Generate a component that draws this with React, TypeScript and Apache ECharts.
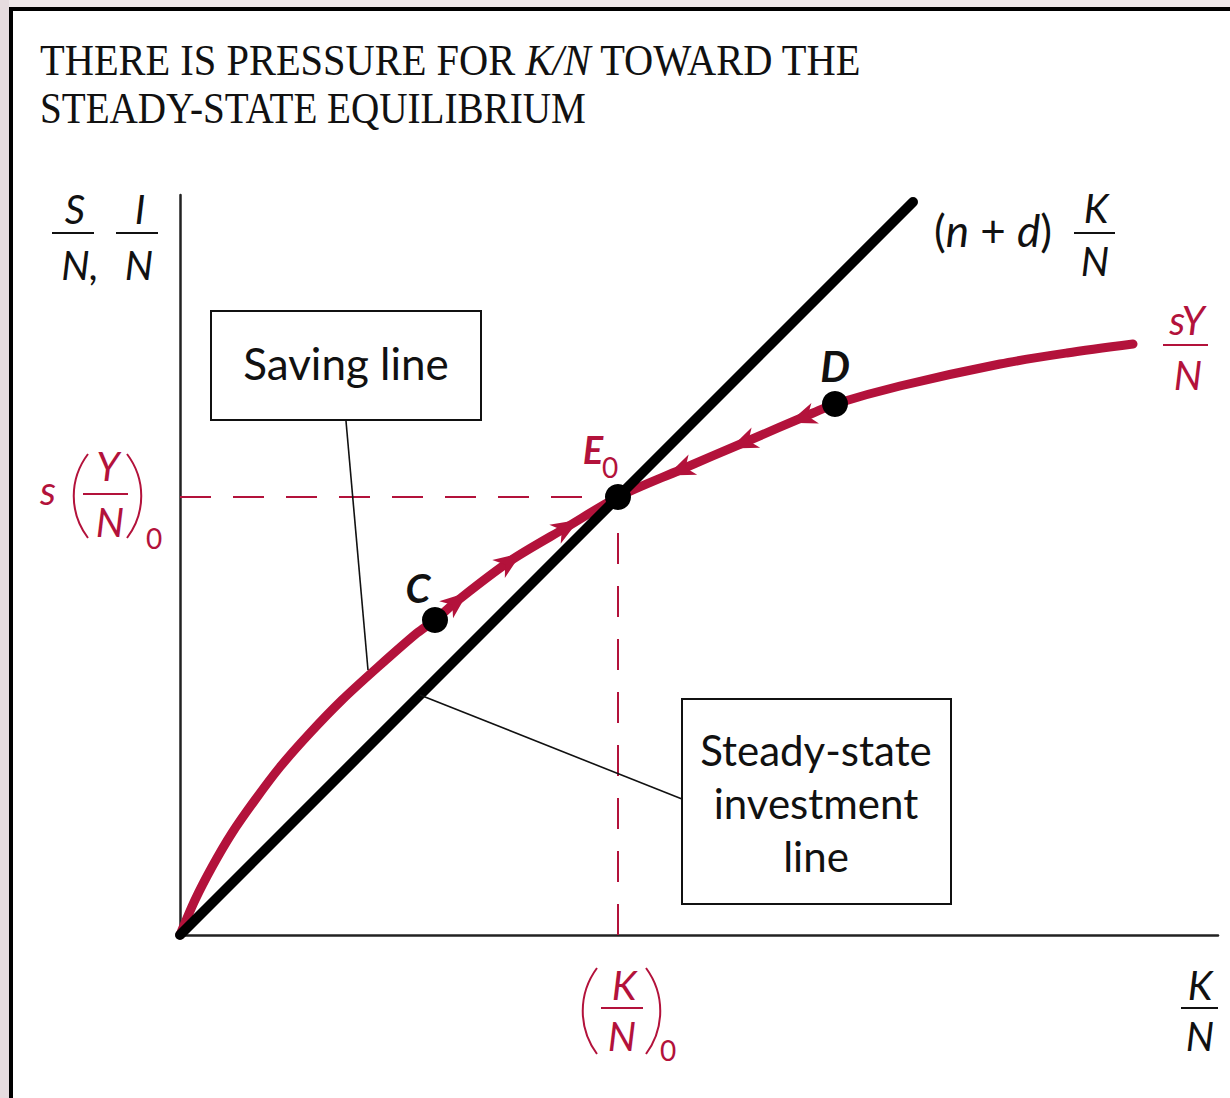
import React, { useEffect, useRef } from 'react';
import * as echarts from 'echarts';

// ---------- data ----------
const kPerN = [0, 0.15, 0.32, 0.52, 0.75, 1.0, 1.3, 1.62, 1.98, 2.37, 2.55, 2.77, 3.3, 3.87, 4.38, 5.0, 5.63, 6.33, 6.55, 7.2, 8.2, 8.87, 9.53];
const savingPerN = [0, 0.35, 0.68, 1.02, 1.35, 1.68, 2.02, 2.35, 2.68, 3.02, 3.15, 3.34, 3.74, 4.08, 4.38, 4.65, 4.92, 5.22, 5.31, 5.49, 5.71, 5.82, 5.91];
const investmentK = [0, 7.33];
const investmentV = [0, 7.33];
const equilibriumK = 4.38;
const equilibriumV = 4.38;
const pointNames = ['C', 'E0', 'D'];
const pointK = [2.55, 4.38, 6.55];
const pointV = [3.15, 4.38, 5.31];
const arrowsUpK = [2.77, 3.3, 3.87];
const arrowsUpV = [3.34, 3.74, 4.08];
const arrowsDownK = [5.0, 5.63, 6.22];
const arrowsDownV = [4.65, 4.92, 5.17];
const savingPointer = [1.88, 2.65];
const investmentPointer = [2.4, 2.4];
const titleLine1 = ['THERE IS PRESSURE FOR ', 'K/N', ' TOWARD THE'];
const titleLine2 = 'STEADY-STATE EQUILIBRIUM';

// ---------- styles ----------
const RED = '#b3123b';
const INK = '#111111';
const MATH = 'Lato, "Noto Sans", sans-serif';
const SERIF = '"Liberation Serif", "DejaVu Serif", serif';
const ARROW = 'path://M28,11 L0,0 L8,11 L0,22 Z';
const upAngles = [39, 35, 31];
const downAngles = [203, 203, 200];

function txt(text: string, x: number, y: number, o: any = {}) {
  return {
    type: 'text',
    x,
    y,
    z: 100,
    style: {
      text,
      fill: o.fill || INK,
      fontFamily: o.family || MATH,
      fontSize: o.size || 40,
      fontStyle: o.style || 'normal',
      fontWeight: o.weight || 'normal',
      align: o.align || 'center',
      verticalAlign: 'middle',
      lineHeight: o.lineHeight,
      rich: o.rich,
    },
  };
}

function hline(x1: number, x2: number, y: number, color = INK, w = 2) {
  return { type: 'line', z: 100, shape: { x1, y1: y, x2, y2: y }, style: { stroke: color, lineWidth: w } };
}

function paren(x: number, yTop: number, yBot: number, bulge: number, color: string) {
  const h = yBot - yTop;
  return {
    type: 'bezierCurve',
    z: 100,
    shape: {
      x1: x, y1: yTop, x2: x, y2: yBot,
      cpx1: x + bulge, cpy1: yTop + h * 0.3,
      cpx2: x + bulge, cpy2: yTop + h * 0.7,
    },
    style: { stroke: color, lineWidth: 2, fill: null },
  };
}

function measure(text: string, font: string) {
  const c = document.createElement('canvas').getContext('2d') as CanvasRenderingContext2D;
  c.font = font;
  return c.measureText(text).width;
}

export default function App() {
  const ref = useRef<HTMLDivElement>(null);

  useEffect(() => {
    if (!ref.current) return;
    const chart = echarts.init(ref.current, null, { renderer: 'svg' });

    const saving = kPerN.map((k, i) => [k, savingPerN[i]]);
    const invest = investmentK.map((k, i) => [k, investmentV[i]]);

    chart.setOption({
      animation: false,
      backgroundColor: '#ffffff',
      grid: { left: 180, top: 195, width: 1038, height: 740 },
      xAxis: {
        type: 'value', min: 0, max: 10.38,
        axisLine: { show: true, lineStyle: { color: '#222', width: 2.5 } },
        axisTick: { show: false }, axisLabel: { show: false }, splitLine: { show: false },
      },
      yAxis: {
        type: 'value', min: 0, max: 7.4,
        axisLine: { show: true, lineStyle: { color: '#222', width: 2.5 } },
        axisTick: { show: false }, axisLabel: { show: false }, splitLine: { show: false },
      },
      series: [
        {
          type: 'line', z: 1, symbol: 'none', silent: true,
          data: [[0, equilibriumV], [equilibriumK - 0.16, equilibriumV]],
          lineStyle: { color: RED, width: 2, type: [31, 22] },
        },
        {
          type: 'line', z: 1, symbol: 'none', silent: true,
          data: [[equilibriumK, 0], [equilibriumK, equilibriumV - 0.2]],
          lineStyle: { color: RED, width: 2, type: [31, 22] },
        },
        {
          name: 'sY/N', type: 'line', z: 3, symbol: 'none', smooth: 0.3,
          data: saving,
          lineStyle: { color: RED, width: 9, cap: 'round' },
        },
        {
          name: '(n+d)K/N', type: 'line', z: 4, symbol: 'none',
          data: invest,
          lineStyle: { color: '#000', width: 10, cap: 'round' },
        },
        {
          type: 'scatter', z: 5, symbol: ARROW, symbolSize: [28, 22],
          itemStyle: { color: RED, opacity: 1 },
          data: arrowsUpK.map((k, i) => ({ value: [k, arrowsUpV[i]], symbolRotate: upAngles[i] })),
        },
        {
          type: 'scatter', z: 5, symbol: ARROW, symbolSize: [28, 22],
          itemStyle: { color: RED, opacity: 1 },
          data: arrowsDownK.map((k, i) => ({ value: [k, arrowsDownV[i]], symbolRotate: downAngles[i] })),
        },
        {
          type: 'scatter', z: 6, symbol: 'circle', symbolSize: 26,
          itemStyle: { color: '#000', opacity: 1 },
          data: pointK.map((k, i) => ({ name: pointNames[i], value: [k, pointV[i]] })),
        },
      ],
    });

    const sp = chart.convertToPixel({ gridIndex: 0 }, savingPointer) as number[];
    const ip = chart.convertToPixel({ gridIndex: 0 }, investmentPointer) as number[];

    const fontReg = `45px ${SERIF}`;
    const fontIt = `italic 45px ${SERIF}`;
    const w1 = measure(titleLine1[0], fontReg) + measure(titleLine1[1], fontIt) + measure(titleLine1[2], fontReg);
    const w2 = measure(titleLine2, fontReg);
    const s1 = 822 / w1;
    const s2 = 546 / w2;

    const graphic: any[] = [
      // page frame
      { type: 'rect', z: 100, shape: { x: 0, y: 0, width: 1230, height: 7 }, style: { fill: '#efe8ea' } },
      { type: 'rect', z: 100, shape: { x: 0, y: 0, width: 9, height: 1098 }, style: { fill: '#e6dcdf' } },
      { type: 'rect', z: 101, shape: { x: 9, y: 7, width: 1221, height: 4 }, style: { fill: '#000' } },
      { type: 'rect', z: 101, shape: { x: 9, y: 7, width: 4, height: 1091 }, style: { fill: '#000' } },
      // title
      {
        type: 'text', x: 40, y: 60, scaleX: s1, z: 100,
        style: {
          text: `${titleLine1[0]}{i|${titleLine1[1]}}${titleLine1[2]}`,
          fill: INK, fontFamily: SERIF, fontSize: 45, align: 'left', verticalAlign: 'middle',
          rich: { i: { fontFamily: SERIF, fontSize: 45, fontStyle: 'italic', fill: INK } },
        },
      },
      {
        type: 'text', x: 40, y: 108, scaleX: s2, z: 100,
        style: { text: titleLine2, fill: INK, fontFamily: SERIF, fontSize: 45, align: 'left', verticalAlign: 'middle' },
      },
      // y-axis label S/N, I/N
      txt('S', 75, 209, { style: 'italic' }),
      hline(52, 94, 233),
      txt('N,', 80, 265, { style: 'italic' }),
      txt('I', 140, 209, { style: 'italic' }),
      hline(116, 158, 233),
      txt('N', 139, 265, { style: 'italic' }),
      // (n + d) K/N
      txt('({i|n} + {i|d})', 993, 230, { size: 44, rich: { i: { fontStyle: 'italic', fontFamily: MATH, fontSize: 44, fill: INK } } }),
      txt('K', 1096, 208, { style: 'italic' }),
      hline(1074, 1115, 233),
      txt('N', 1095, 261, { style: 'italic' }),
      // sY/N
      txt('sY', 1187, 320, { style: 'italic', fill: RED }),
      hline(1163, 1208, 345, RED),
      txt('N', 1188, 375, { style: 'italic', fill: RED }),
      // s (Y/N)0
      txt('s', 48, 490, { style: 'italic', fill: RED }),
      paren(88, 454, 538, -19, RED),
      txt('Y', 108, 466, { style: 'italic', fill: RED }),
      hline(83, 128, 494, RED),
      txt('N', 110, 522, { style: 'italic', fill: RED }),
      paren(127, 454, 538, 19, RED),
      txt('0', 154, 538, { size: 28, fill: RED }),
      // (K/N)0
      paren(597, 968, 1054, -19, RED),
      txt('K', 624, 985, { style: 'italic', fill: RED }),
      hline(601, 643, 1008, RED),
      txt('N', 622, 1036, { style: 'italic', fill: RED }),
      paren(646, 968, 1054, 19, RED),
      txt('0', 668, 1050, { size: 28, fill: RED }),
      // K/N
      txt('K', 1200, 985, { style: 'italic' }),
      hline(1181, 1218, 1008),
      txt('N', 1200, 1036, { style: 'italic' }),
      // point labels
      txt('C', 418, 588, { style: 'italic', weight: 'bold', size: 40 }),
      txt('D', 835, 366, { style: 'italic', weight: 'bold', size: 42 }),
      txt('E', 593, 449, { style: 'italic', weight: 'bold', size: 38, fill: RED }),
      txt('0', 610, 467, { size: 28, fill: RED }),
      // Saving line callout
      { type: 'line', z: 90, shape: { x1: 346, y1: 421, x2: sp[0], y2: sp[1] }, style: { stroke: INK, lineWidth: 1.6 } },
      { type: 'rect', z: 100, shape: { x: 211, y: 311, width: 270, height: 109 }, style: { fill: '#fff', stroke: INK, lineWidth: 2 } },
      txt('Saving line', 346, 363, { size: 44 }),
      // Steady-state investment callout
      { type: 'line', z: 90, shape: { x1: 682, y1: 799, x2: ip[0], y2: ip[1] }, style: { stroke: INK, lineWidth: 1.6 } },
      { type: 'rect', z: 100, shape: { x: 682, y: 699, width: 269, height: 205 }, style: { fill: '#fff', stroke: INK, lineWidth: 2 } },
      txt('Steady-state\ninvestment\nline', 816, 803, { size: 42, lineHeight: 53 }),
    ];

    chart.setOption({ graphic });

    return () => chart.dispose();
  }, []);

  return <div ref={ref} style={{ position: 'absolute', left: 0, top: 0, width: 1230, height: 1098 }} />;
}
